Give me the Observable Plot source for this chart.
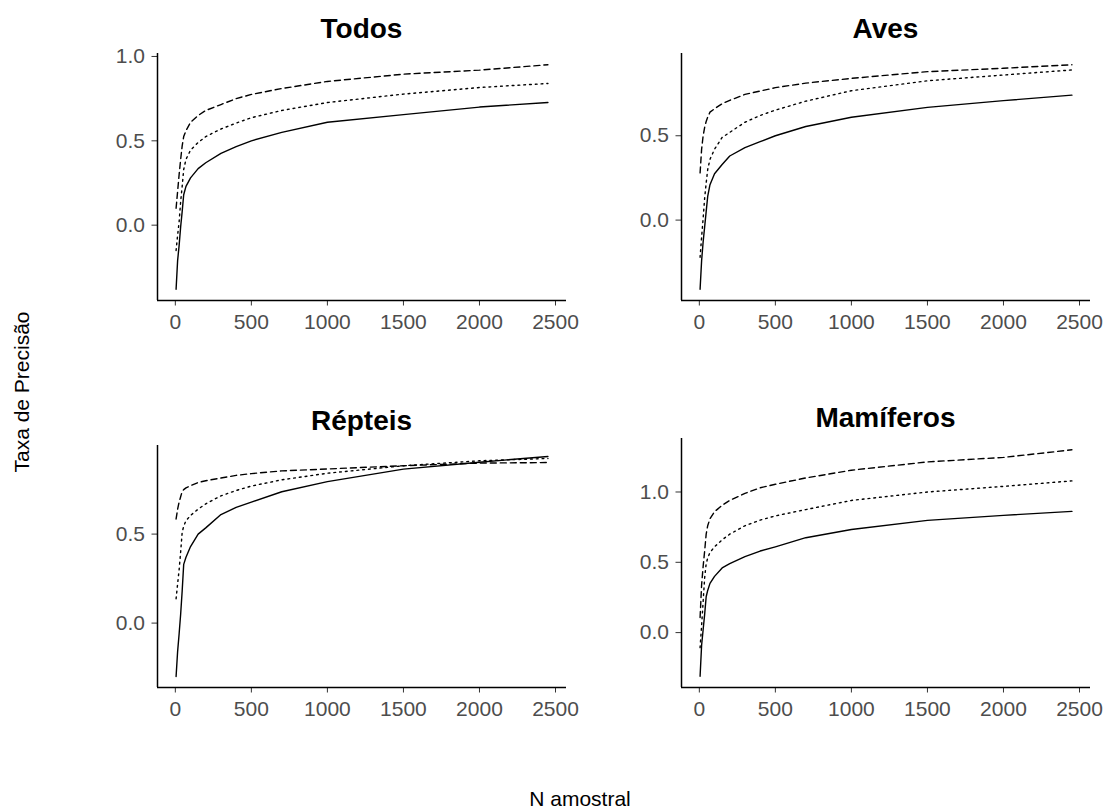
<!DOCTYPE html>
<html>
<head>
<meta charset="utf-8">
<script src="https://cdn.jsdelivr.net/npm/d3@7"></script>
<script src="https://cdn.jsdelivr.net/npm/@observablehq/plot@0.6"></script>
<style>
  body { margin: 0; background: #fff; }
  #root { position: relative; width: 1109px; height: 810px; font-family: "Liberation Sans", Arial, sans-serif; overflow: hidden; }
  #root > svg, #root > div { position: absolute; }
</style>
</head>
<body>
<div id="root"></div>
<script>
// ---------- DATA ----------
const nAmostral = [5, 15, 25, 35, 45, 55, 70, 100, 150, 200, 300, 400, 500, 700, 1000, 1500, 2000, 2450];
const xTicks = [0, 500, 1000, 1500, 2000, 2500];
const panelTitles = ["Todos", "Aves", "Répteis", "Mamíferos"];

// solid / dotted / dashed lines for each group
const todosSolid  = [-0.38, -0.21, -0.12, -0.01, 0.08, 0.18, 0.23, 0.28, 0.335, 0.37, 0.425, 0.465, 0.50, 0.55, 0.61, 0.655, 0.70, 0.727];
const todosDotted = [-0.15, -0.06, 0.02, 0.14, 0.23, 0.33, 0.39, 0.445, 0.49, 0.525, 0.57, 0.605, 0.637, 0.68, 0.727, 0.777, 0.816, 0.84];
const todosDashed = [0.10, 0.20, 0.30, 0.39, 0.47, 0.525, 0.56, 0.61, 0.65, 0.68, 0.715, 0.75, 0.775, 0.81, 0.852, 0.895, 0.919, 0.951];

const avesSolid  = [-0.41, -0.24, -0.13, -0.04, 0.05, 0.14, 0.21, 0.275, 0.33, 0.38, 0.43, 0.465, 0.50, 0.555, 0.61, 0.668, 0.708, 0.741];
const avesDotted = [-0.22, -0.10, 0.01, 0.13, 0.22, 0.30, 0.36, 0.42, 0.49, 0.52, 0.58, 0.62, 0.652, 0.705, 0.767, 0.826, 0.86, 0.89];
const avesDashed = [0.28, 0.42, 0.50, 0.55, 0.585, 0.61, 0.64, 0.66, 0.69, 0.71, 0.745, 0.765, 0.785, 0.812, 0.84, 0.88, 0.90, 0.921];

const repteisSolid  = [-0.30, -0.16, -0.06, 0.05, 0.18, 0.33, 0.37, 0.43, 0.50, 0.535, 0.61, 0.65, 0.68, 0.738, 0.795, 0.865, 0.904, 0.936];
const repteisDotted = [0.137, 0.22, 0.30, 0.40, 0.51, 0.545, 0.575, 0.605, 0.64, 0.67, 0.715, 0.745, 0.77, 0.805, 0.842, 0.884, 0.912, 0.925];
const repteisDashed = [0.585, 0.64, 0.68, 0.71, 0.74, 0.75, 0.76, 0.772, 0.79, 0.80, 0.815, 0.83, 0.84, 0.855, 0.866, 0.884, 0.899, 0.902];

const mamiferosSolid  = [-0.31, -0.09, 0.02, 0.13, 0.255, 0.30, 0.35, 0.40, 0.46, 0.49, 0.54, 0.58, 0.61, 0.675, 0.733, 0.798, 0.834, 0.862];
const mamiferosDotted = [-0.107, 0.05, 0.22, 0.39, 0.49, 0.53, 0.57, 0.61, 0.66, 0.70, 0.76, 0.80, 0.83, 0.875, 0.94, 1.00, 1.04, 1.079];
const mamiferosDashed = [0.107, 0.34, 0.47, 0.58, 0.70, 0.76, 0.81, 0.86, 0.905, 0.94, 0.99, 1.03, 1.055, 1.10, 1.155, 1.214, 1.246, 1.30];

const yTicksTodos = [0, 0.5, 1.0];
const yTicksAves = [0, 0.5];
const yTicksRepteis = [0, 0.5];
const yTicksMamiferos = [0, 0.5, 1.0];

const yLabel = "Taxa de Precisão";
const xLabel = "N amostral";

// ---------- LAYOUT ----------
const dashes = [null, "1.8,4", "6,4"];
const panels = [
  {title: panelTitles[0], series: [todosSolid, todosDotted, todosDashed], yTicks: yTicksTodos,
   left: 80, top: 40, width: 500, height: 310, ml: 77, mr: 14, mt: 13, mb: 50, tx: 361.5, ty: 38},
  {title: panelTitles[1], series: [avesSolid, avesDotted, avesDashed], yTicks: yTicksAves,
   left: 604, top: 40, width: 505, height: 310, ml: 77, mr: 19, mt: 13, mb: 50, tx: 885.5, ty: 38},
  {title: panelTitles[2], series: [repteisSolid, repteisDotted, repteisDashed], yTicks: yTicksRepteis,
   left: 80, top: 432, width: 500, height: 310, ml: 77, mr: 14, mt: 13, mb: 55, tx: 361.5, ty: 430},
  {title: panelTitles[3], series: [mamiferosSolid, mamiferosDotted, mamiferosDashed], yTicks: yTicksMamiferos,
   left: 604, top: 432, width: 505, height: 310, ml: 77, mr: 19, mt: 6, mb: 55, tx: 885.5, ty: 427}
];

const root = document.getElementById("root");

function expand(ext) {
  const p = (ext[1] - ext[0]) * 0.05;
  return [ext[0] - p, ext[1] + p];
}

for (const P of panels) {
  const data = P.series.map(vals => nAmostral.map((n, j) => ({n, v: vals[j]})));
  const xDom = expand(d3.extent(nAmostral));
  const yDom = expand(d3.extent(P.series.flat()));
  const chart = Plot.plot({
    width: P.width, height: P.height,
    marginLeft: P.ml, marginRight: P.mr, marginTop: P.mt, marginBottom: P.mb,
    style: {fontFamily: '"Liberation Sans", Arial, sans-serif', fontSize: "21px", background: "transparent", overflow: "visible"},
    x: {domain: xDom},
    y: {domain: yDom},
    marks: [
      ...data.map((d, i) => Plot.line(d, {x: "n", y: "v", stroke: "#000", strokeWidth: 1.4, strokeDasharray: dashes[i] || undefined})),
      Plot.axisX({ticks: xTicks, tickSize: 5.5, tickPadding: 8, stroke: "#333", fill: "#4D4D4D", label: null, tickFormat: d => String(d)}),
      Plot.axisY({ticks: P.yTicks, tickSize: 5.5, tickPadding: 7, stroke: "#333", fill: "#4D4D4D", label: null, tickFormat: d3.format(".1f")}),
      Plot.ruleX([xDom[0]], {stroke: "#000", strokeWidth: 1.5}),
      Plot.ruleY([yDom[0]], {stroke: "#000", strokeWidth: 1.5})
    ]
  });
  chart.style.position = "absolute";
  chart.style.left = P.left + "px";
  chart.style.top = P.top + "px";
  root.appendChild(chart);
}

// overlay texts: panel titles and shared axis labels
const overlay = d3.create("svg")
  .attr("width", 1109).attr("height", 810)
  .style("position", "absolute").style("left", "0px").style("top", "0px")
  .style("pointer-events", "none")
  .style("font-family", '"Liberation Sans", Arial, sans-serif');

for (const P of panels) {
  overlay.append("text").attr("x", P.tx).attr("y", P.ty)
    .attr("text-anchor", "middle").attr("font-size", 28).attr("font-weight", "bold").attr("fill", "#000")
    .text(P.title);
}
overlay.append("text").attr("transform", "translate(29,392) rotate(-90)")
  .attr("text-anchor", "middle").attr("font-size", 21).attr("fill", "#000").text(yLabel);
overlay.append("text").attr("x", 580).attr("y", 806)
  .attr("text-anchor", "middle").attr("font-size", 21).attr("fill", "#000").text(xLabel);

root.appendChild(overlay.node());
</script>
</body>
</html>
